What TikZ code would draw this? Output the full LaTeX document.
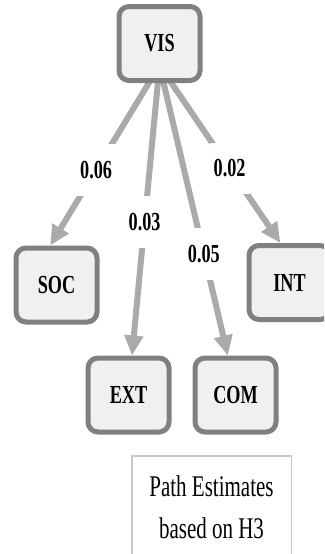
\documentclass[tikz,border=0pt]{standalone}
\usepackage{fontspec}
\setmainfont[FakeStretch=0.7]{Liberation Serif}
\usetikzlibrary{arrows.meta,backgrounds}

\definecolor{boxgray}{HTML}{808080}
\definecolor{boxfill}{HTML}{F0F0F0}
\definecolor{linkgray}{HTML}{AAAAAA}
\definecolor{notegray}{HTML}{C8C8C8}

\begin{document}
\begin{tikzpicture}[x=1pt,y=-1pt,
  var/.style={draw=boxgray,line width=5pt,fill=boxfill,rounded corners=10pt,
    minimum width=81pt,minimum height=74pt,font=\fontsize{26}{30}\selectfont\bfseries},
  link/.style={draw=linkgray,line width=6pt,-{Triangle[length=20pt,width=18pt]}},
  coef/.style={fill=white,inner xsep=4pt,inner ysep=17pt,font=\fontsize{26}{30}\selectfont\bfseries},
  legend/.style={draw=notegray,line width=1.5pt,align=center,minimum width=159.5pt,
    inner ysep=19.5pt,font=\fontsize{30}{42}\selectfont}]
  \useasboundingbox (0,0) rectangle (324,554);
  \clip (0,0) rectangle (324,554);
  \node[var] (vis) at (159.5,43.5) {VIS};
  \node[var] (soc) at (56.5,285) {SOC};
  \node[var] (ext) at (128.5,395) {EXT};
  \node[var] (com) at (235.5,395) {COM};
  \node[var] (int) at (289.5,282.5) {INT};
  \node[legend,anchor=north] (note) at (211.5,455) {Path Estimates\\based on H3};
  \begin{pgfonlayer}{background}
    \draw[link] ([yshift=-22pt]vis.center) -- node[coef,pos=.58] {0.06} (soc.99);
    \draw[link] ([yshift=-22pt]vis.center) -- node[coef,pos=.54] {0.03} (ext.85);
    \draw[link] ([yshift=-22pt]vis.center) -- node[coef,pos=.65] {0.05} (com.101);
    \draw[link] ([yshift=-22pt]vis.center) -- node[coef,pos=.58] {0.02} (int.103);
  \end{pgfonlayer}
\end{tikzpicture}
\end{document}
